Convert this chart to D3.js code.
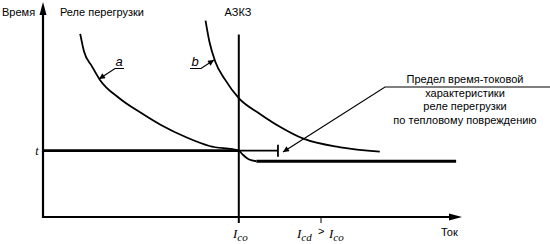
<!DOCTYPE html>
<html><head><meta charset="utf-8">
<script src="https://cdn.jsdelivr.net/npm/d3@7"></script>
<style>
html,body{margin:0;padding:0;background:#fff;}
svg{display:block;}
text{font-family:"Liberation Sans",Arial,sans-serif;fill:#000;}
.it{font-family:"Liberation Serif","Times New Roman",serif;font-style:italic;}
</style></head>
<body>
<svg id="c" width="550" height="244"></svg>
<script>
// Data (relative current: Ico = 1; relative time: t = 1)
const curveA_x = [0.19,0.21,0.25,0.29,0.39,0.50,0.60,0.74,0.85,1.00,1.02,1.05,1.09,2.11];
const curveA_y = [2.76,2.49,2.27,2.07,1.79,1.57,1.39,1.19,1.07,1.00,0.94,0.87,0.84,0.84];
const curveB_x = [0.83,0.85,0.88,0.93,1.00,1.11,1.21,1.33,1.52,1.72];
const curveB_y = [2.96,2.64,2.34,2.07,1.79,1.55,1.36,1.18,1.05,0.985];
const tLevel = 1.0;
const tLineEnd = 1.20;
const Ico = 1.0;
const Icd = 1.42;
const xMax = 2.14, yMax = 3.24;
const labelsTop = ["Время","Реле перегрузки","АЗКЗ"];
const noteLines = ["Предел время-токовой","характеристики","реле перегрузки","по тепловому повреждению"];

const svg = d3.select("#c");
const x = d3.scaleLinear().domain([0, xMax]).range([43, 462]);
const y = d3.scaleLinear().domain([0, yMax]).range([217, 2]);

const defs = svg.append("defs");
defs.append("marker").attr("id","ah").attr("viewBox","0 0 10 10").attr("refX",10).attr("refY",5)
  .attr("markerWidth",8).attr("markerHeight",6).attr("markerUnits","userSpaceOnUse").attr("orient","auto")
  .append("path").attr("d","M0,0 L10,5 L0,10 Z").attr("fill","#000");

// axes
svg.append("line").attr("x1",x(0)).attr("y1",y(0)+1).attr("x2",x(0)).attr("y2",y(yMax)+10)
  .attr("stroke","#000").attr("stroke-width",2.2);
svg.append("path").attr("d",`M${x(0)},${y(yMax)} L${x(0)-3.5},${y(yMax)+13} L${x(0)+3.5},${y(yMax)+13} Z`).attr("fill","#000");
svg.append("line").attr("x1",x(0)-1).attr("y1",y(0)).attr("x2",x(xMax)-10).attr("y2",y(0))
  .attr("stroke","#000").attr("stroke-width",2.2);
svg.append("path").attr("d",`M${x(xMax)},${y(0)} L${x(xMax)-13},${y(0)-3.5} L${x(xMax)-13},${y(0)+3.5} Z`).attr("fill","#000");

// Ico vertical line
svg.append("line").attr("x1",x(Ico)).attr("x2",x(Ico)).attr("y1",y(0)+6).attr("y2",y(2.75))
  .attr("stroke","#000").attr("stroke-width",2);
// Icd tick
svg.append("line").attr("x1",x(Icd)).attr("x2",x(Icd)).attr("y1",y(0)).attr("y2",y(0)+6)
  .attr("stroke","#000").attr("stroke-width",1);

// t line
svg.append("line").attr("x1",x(0)).attr("x2",x(Ico)).attr("y1",y(tLevel)).attr("y2",y(tLevel))
  .attr("stroke","#000").attr("stroke-width",2.6);
svg.append("line").attr("x1",x(Ico)).attr("x2",x(tLineEnd)).attr("y1",y(tLevel)).attr("y2",y(tLevel))
  .attr("stroke","#000").attr("stroke-width",1.8);
svg.append("line").attr("x1",x(tLineEnd)).attr("x2",x(tLineEnd)).attr("y1",y(tLevel)-6).attr("y2",y(tLevel)+6)
  .attr("stroke","#000").attr("stroke-width",1.8);

const line = d3.line().x(d=>x(d[0])).y(d=>y(d[1])).curve(d3.curveMonotoneX);
const aPts = curveA_x.map((v,i)=>[v,curveA_y[i]]);
const aCurve = aPts.slice(0,13);
svg.append("path").attr("d",line(aCurve)).attr("fill","none").attr("stroke","#000").attr("stroke-width",1.8);
svg.append("line").attr("x1",x(aPts[12][0])).attr("x2",x(aPts[13][0])).attr("y1",y(aPts[12][1])).attr("y2",y(aPts[13][1]))
  .attr("stroke","#000").attr("stroke-width",2.8);
const bPts = curveB_x.map((v,i)=>[v,curveB_y[i]]);
svg.append("path").attr("d",line(bPts)).attr("fill","none").attr("stroke","#000").attr("stroke-width",1.8);

// labels a, b
function leader(pts){
  svg.append("path").attr("d",d3.line()(pts)).attr("fill","none").attr("stroke","#000").attr("stroke-width",1.2).attr("marker-end","url(#ah)");
}
svg.append("text").attr("class","it").attr("x",119).attr("y",66).attr("font-size",13).attr("text-anchor","middle")
  .style("font-family","Liberation Sans, Arial, sans-serif").text("a");
leader([[124,68.5],[115,68.5],[99,79]]);
svg.append("text").attr("x",195).attr("y",66).attr("font-size",13).attr("text-anchor","middle")
  .style("font-style","italic").text("b");
leader([[190,68.5],[201,68.5],[214,60]]);

// note leader
leader([[550,87],[385,87],[283,152]]);

// top labels
const fs = 11;
svg.append("text").attr("x",2).attr("y",16).attr("font-size",fs).text(labelsTop[0]);
svg.append("text").attr("x",60).attr("y",16).attr("font-size",fs).text(labelsTop[1]);
svg.append("text").attr("x",238).attr("y",16).attr("font-size",fs).attr("text-anchor","middle").text(labelsTop[2]);

// note text
noteLines.forEach((s,i)=>{
  svg.append("text").attr("x",465).attr("y",83+i*13.5).attr("font-size",fs).attr("text-anchor","middle").text(s);
});

// t label
svg.append("text").attr("class","it").attr("x",37).attr("y",155).attr("font-size",12).attr("text-anchor","middle").text("t");

// Ico label
function ilabel(xp, sub){
  const t = svg.append("text").attr("class","it").attr("x",xp).attr("y",238).attr("font-size",13);
  t.append("tspan").text("I");
  t.append("tspan").attr("dy",3).attr("font-size",11).text(sub);
  return t;
}
ilabel(233,"co");
ilabel(297,"cd");
svg.append("text").attr("x",318).attr("y",235).attr("font-size",11).text(">");
ilabel(329,"co");

svg.append("text").attr("x",441).attr("y",236).attr("font-size",fs).text("Ток");
</script>
</body></html>
